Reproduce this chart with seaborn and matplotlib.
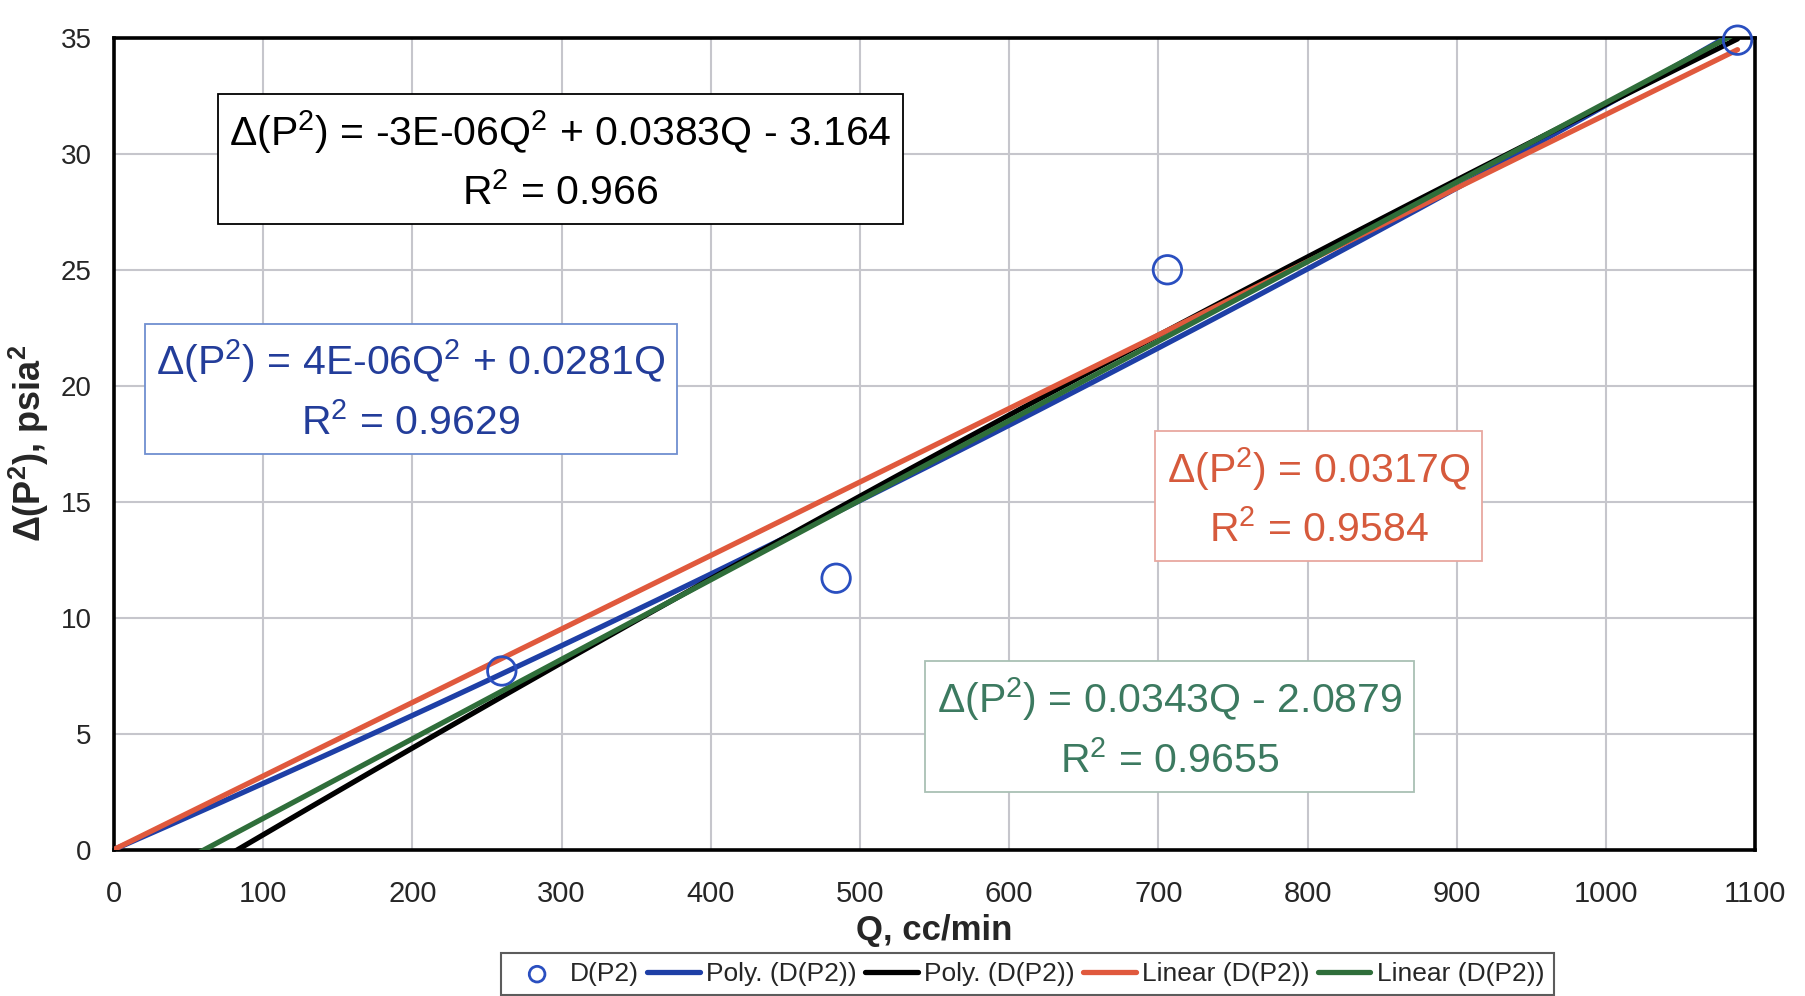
import numpy as np
import pandas as pd
import matplotlib
matplotlib.use("Agg")
import matplotlib.pyplot as plt
import seaborn as sns

# ---- data ----
q_obs = [260, 484, 706, 1088]          # Q, cc/min
dp2_obs = [7.7, 11.7, 25.0, 34.9]      # Delta(P^2), psia^2

poly_blue = [4e-06, 0.0281, 0.0]       # a*Q^2 + b*Q + c
r2_poly_blue = 0.9629
poly_black = [-3e-06, 0.0383, -3.164]
r2_poly_black = 0.966
lin_red = [0.0317, 0.0]                # m*Q + c
r2_lin_red = 0.9584
lin_green = [0.0343, -2.0879]
r2_lin_green = 0.9655

x_ticks = [0, 100, 200, 300, 400, 500, 600, 700, 800, 900, 1000, 1100]
y_ticks = [0, 5, 10, 15, 20, 25, 30, 35]

sns.set_theme(style="white")
plt.rcParams['font.family'] = ['Liberation Sans', 'DejaVu Sans']
plt.rcParams['mathtext.default'] = 'regular'

fig = plt.figure(figsize=(18.06, 9.96), dpi=100)
ax = fig.add_axes([0.063, 0.147, 0.909, 0.815])

blue = '#1e3fa6'
black = '#000000'
red = '#e0593d'
green = '#2f6e3a'

qq = np.linspace(0, max(q_obs), 300)
curves = [
    (np.polyval(poly_blue, qq), blue, 'Poly. (D(P2))'),
    (np.polyval(poly_black, qq), black, 'Poly. (D(P2))'),
    (np.polyval(lin_red, qq), red, 'Linear (D(P2))'),
    (np.polyval(lin_green, qq), green, 'Linear (D(P2))'),
]

sns.scatterplot(x=q_obs, y=dp2_obs, ax=ax, s=420, marker='o',
                facecolor='none', edgecolor='#2a4fc0', linewidth=2.0,
                label='D(P2)', zorder=6, clip_on=False)
for yy, col, lab in curves:
    sns.lineplot(x=qq, y=yy, ax=ax, color=col, linewidth=3.8, label=lab,
                 sort=False, zorder=3)

ax.set_xlim(0, 1100)
ax.set_ylim(0, 35)
ax.set_xticks(x_ticks)
ax.set_yticks(y_ticks)
ax.set_xticklabels([str(t) for t in x_ticks], fontsize=21)
ax.set_yticklabels([str(t) for t in y_ticks], fontsize=20)
ax.tick_params(axis='both', direction='out', length=10, width=1.5, color='black', pad=6)
ax.tick_params(axis='x', pad=12)
ax.grid(True, color='#c6c6cc', linewidth=1.5)
ax.set_axisbelow(True)
for s in ax.spines.values():
    s.set_color('black')
    s.set_linewidth(2.6)

ax.set_xlabel('Q, cc/min', fontsize=25, fontweight='bold', labelpad=4)
ax.set_ylabel(r'$\Delta$(P$^2$), psia$^2$', fontsize=26, fontweight='bold', labelpad=7)


def fmt_poly(c):
    a, b, k = c
    s = r'$\Delta$(P$^2$) = ' + f'{a:.0E}'.replace('+', '') + r'Q$^2$ + ' + f'{b:.4f}'.rstrip('0') + 'Q'
    if k != 0:
        s += (' - ' if k < 0 else ' + ') + f'{abs(k):g}'
    return s


def fmt_lin(c):
    m, k = c
    s = r'$\Delta$(P$^2$) = ' + f'{m:g}' + 'Q'
    if k != 0:
        s += (' - ' if k < 0 else ' + ') + f'{abs(k):g}'
    return s


def exp_fix(s):
    return s.replace('E-6', 'E-06')


labels = [
    (exp_fix(fmt_poly(poly_black)) + '\n' + r'R$^2$ = ' + f'{r2_poly_black:g}', 0.272, 0.849, black, black),
    (exp_fix(fmt_poly(poly_blue)) + '\n' + r'R$^2$ = ' + f'{r2_poly_blue:g}', 0.181, 0.566, '#233d9a', '#6f8fd0'),
    (fmt_lin(lin_red) + '\n' + r'R$^2$ = ' + f'{r2_lin_red:g}', 0.734, 0.434, '#d65a3c', '#e8a8a0'),
    (fmt_lin(lin_green) + '\n' + r'R$^2$ = ' + f'{r2_lin_green:g}', 0.643, 0.150, '#3c7a60', '#a9c0b4'),
]
for txt, xf, yf, tc, ec in labels:
    ax.text(xf, yf, txt, transform=ax.transAxes, ha='center', va='center',
            fontsize=29.5, color=tc, linespacing=1.55, zorder=8,
            bbox=dict(boxstyle='square,pad=0.28', facecolor='white', edgecolor=ec, linewidth=1.3))

handles, labs = ax.get_legend_handles_labels()
leg = ax.legend(handles, labs, loc='center', bbox_to_anchor=(0.569, 0.022),
                bbox_transform=fig.transFigure, ncol=5, frameon=True, fancybox=False,
                edgecolor='#333333', handlelength=2.0, handletextpad=0.25,
                columnspacing=0.3, borderpad=0.35, markerscale=0.55,
                prop={'size': 19})
leg.get_frame().set_linewidth(1.5)

fig.savefig('out.png', dpi=100)
